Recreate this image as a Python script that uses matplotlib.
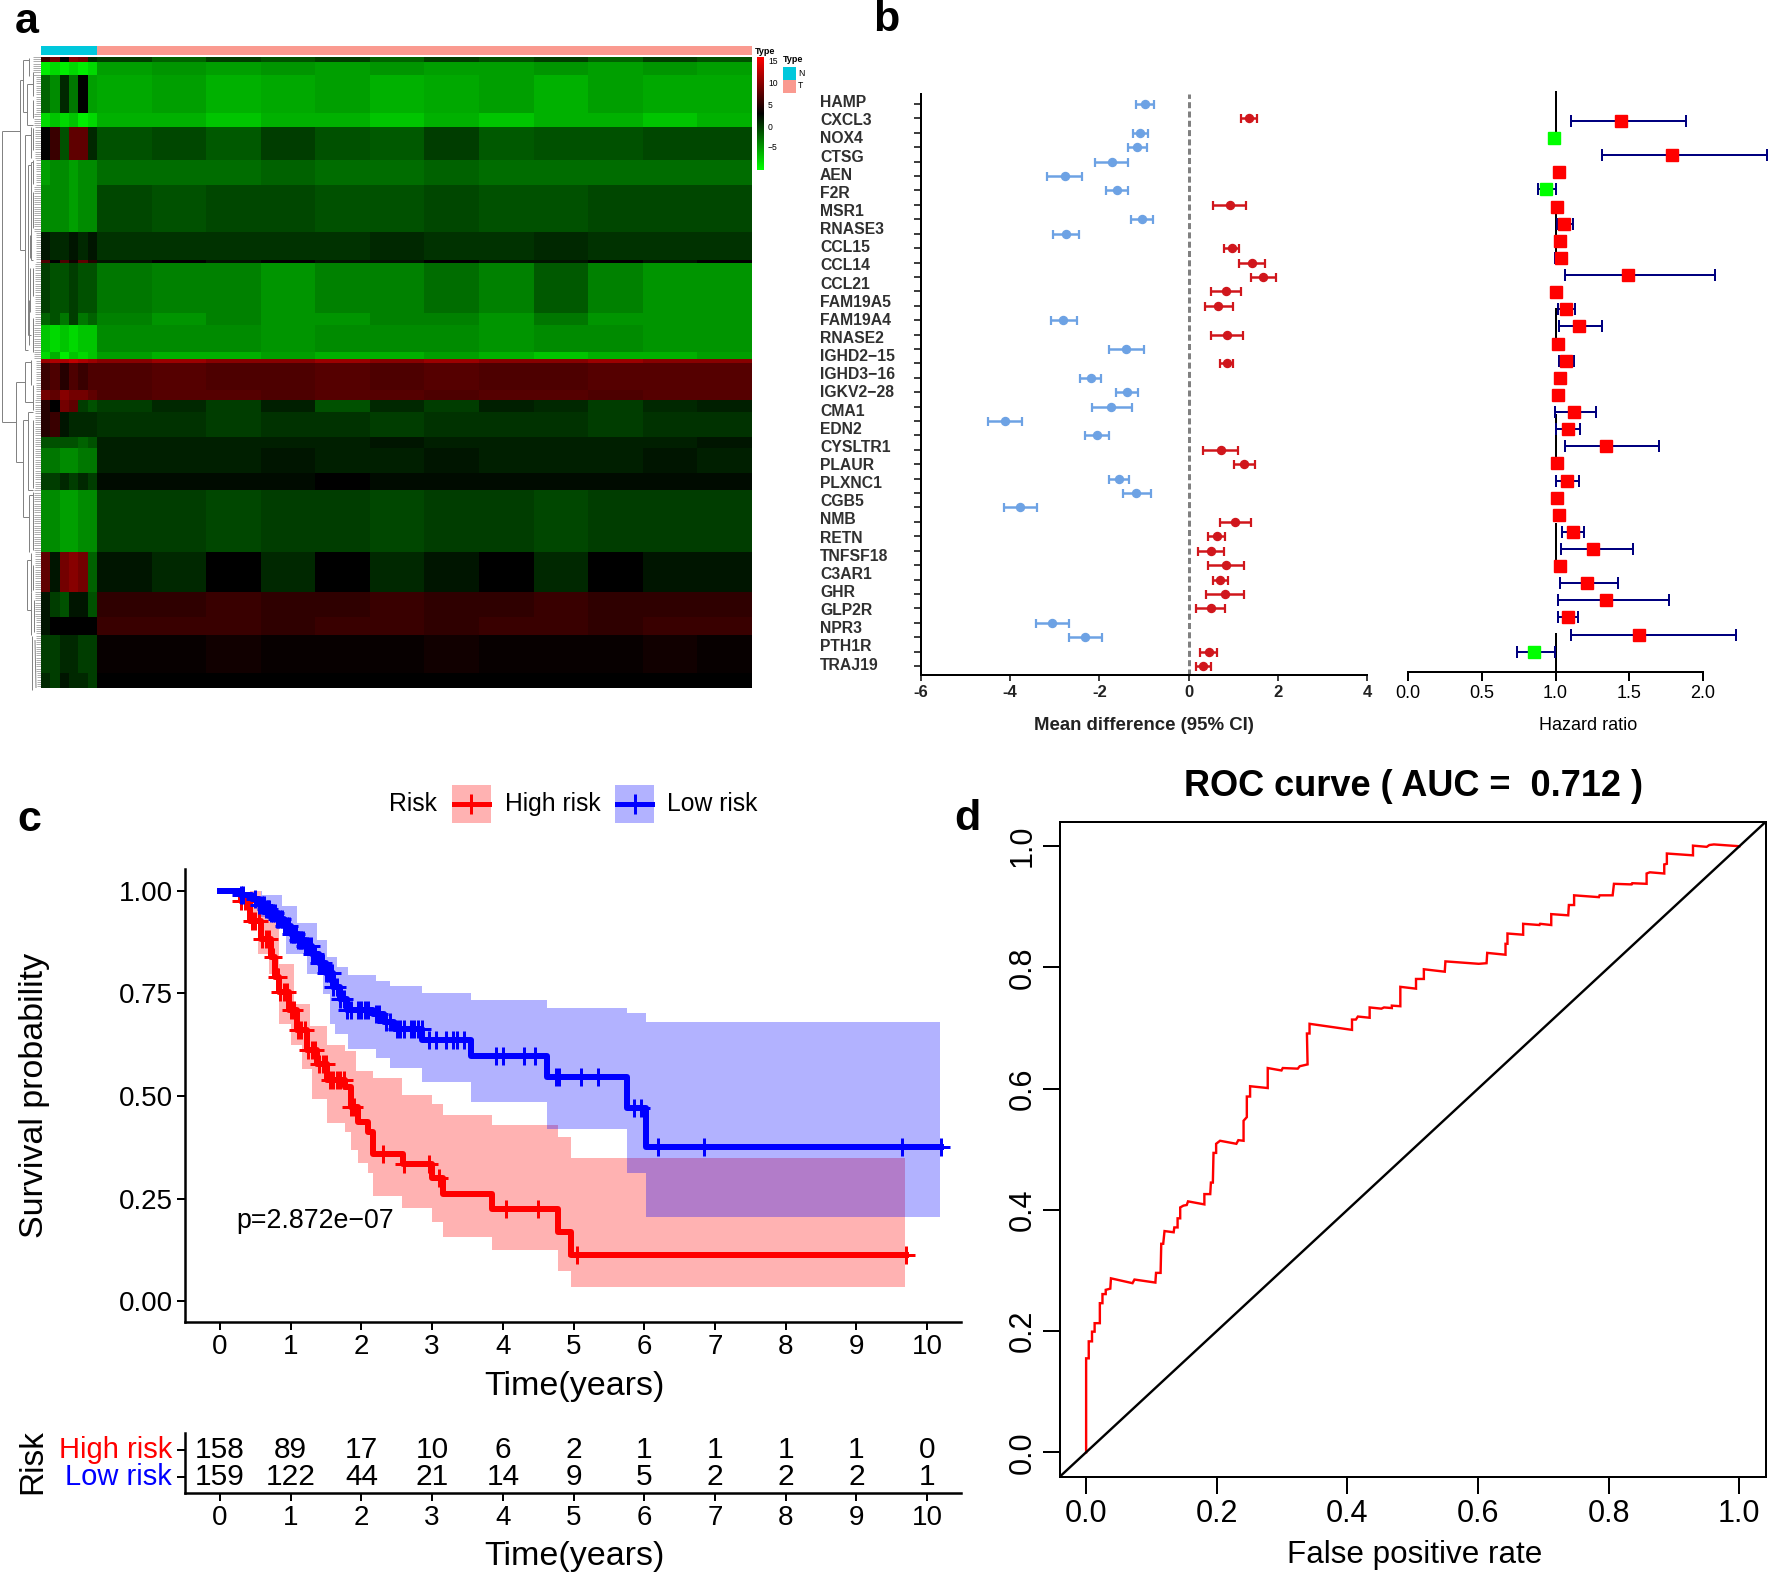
import numpy as np
import matplotlib
matplotlib.use("Agg")
import matplotlib.pyplot as plt
from matplotlib.colors import LinearSegmentedColormap
from matplotlib.patches import Rectangle

plt.rcParams['font.family'] = ['Liberation Sans', 'DejaVu Sans']

W, H = 1770, 1575

# --- panel a: heatmap read band by band (height of band, then N and T columns)
heat_heights = [5, 13, 38, 14, 33, 25, 47, 28, 3, 50, 12, 27, 7, 4, 27, 10, 12, 25, 11, 25, 17, 62, 40, 25, 18, 38, 15]
heat_n = [
    [6, 9, 3, 10, 9, 1], [-9, -8, -9, -8, -9, -8], [-2, -4, 1, -3, 3, -5], [-8, -7, -8, -7, -9, -8],
    [3, 6, -1, 8, 8, 1], [-5, -4, -4, -5, -4, -4], [-4, -4, -4, -5, -4, -4], [2, 1, 1, 2, 1, 2],
    [7, 3, 7, 4, 8, 5], [0, -1, -1, 0, -1, -1], [-2, -1, -3, 0, -3, -2], [-7, -8, -7, -8, -7, -7],
    [-8, -6, -9, -7, -8, -7], [11, 12, 12, 13, 12, 11], [6, 7, 5, 7, 6, 7], [9, 8, 10, 9, 9, 8],
    [5, 3, 9, 8, 0, -1], [5, 6, 2, 1, 1, 1], [-1, -1, -1, -1, -2, -1], [-3, -3, -4, -4, -3, -3],
    [0, 0, 1, 0, 1, 0], [-4, -4, -5, -5, -4, -4], [8, 2, 9, 10, 9, -2], [2, 0, -1, 2, 2, -1],
    [2, 3, 3, 3, 3, 3], [0, 0, 1, 1, 0, 0], [1, 0, 2, 1, 1, 0],
]
heat_t = [
    [0, -2, 0, -1, 0, -2, 0, -1, 0, -2, 0, -1], [-5, -4.5, -5, -4.5, -5, -4.5, -5, -5, -4.5, -5, -4.5, -5],
    [-5.5, -5, -6, -5.5, -5, -6, -5.5, -5, -6, -5, -5.5, -5.5], [-6, -6, -7, -6, -6, -7, -6, -7, -6, -6, -7, -6],
    [-1, -0.5, -1.5, 0, -1, -1.5, 0, -1.5, -1, -1, -0.5, -0.5], [-2.5, -2.5, -2.5, -2, -2.5, -2.5, -2, -2.5, -2.5, -2.5, -2.5, -2.5],
    [-0.5, -1, -0.5, -0.5, -1, -1, -0.5, -1, -1, -0.5, -0.5, -0.5], [0.5, 0.5, 0.5, 0.5, 0.5, 1, 0.5, 0.5, 1, 0.5, 0.5, 0.5],
    [2, 3, 2, 3, 2, 2, 3, 2, 2, 3, 2, 3], [-3, -3.5, -3.5, -4.5, -3.5, -3.5, -2.5, -3.5, -1.5, -3.5, -4.5, -4.5],
    [-3.5, -4.5, -3.5, -4.5, -4.5, -3.5, -3.5, -4.5, -3, -4.5, -4.5, -4.5], [-4, -4, -4, -4.5, -4, -4, -4, -4.5, -4, -4, -4.5, -4.5],
    [-5, -6, -6, -5, -6, -6, -5, -6, -7, -6, -6, -5], [10, 11, 10, 10, 11, 10, 11, 10, 10, 11, 10, 10],
    [7, 7.5, 7, 7, 7.5, 7, 7.5, 7, 7, 7.5, 7.5, 7.5], [7, 7.5, 7.5, 7, 7.5, 7.5, 7, 7.5, 7.5, 7, 7.5, 7.5],
    [0, 1, 0, 1.5, -1, 1, 0, 1.5, 1, 0, 1, 1.5], [0.5, 0.5, 0, 0.5, 0.5, 0, 0.5, 0.5, 0.5, 0, 0.5, 0.5],
    [1.5, 1.5, 1.5, 1.5, 1.5, 2, 1.5, 1.5, 1.5, 1.5, 1.5, 2], [1.5, 1.5, 1.5, 2, 1.5, 1.5, 2, 1.5, 1.5, 1.5, 2, 1.5],
    [2.5, 2.5, 2.5, 2.5, 3, 2.5, 2.5, 2.5, 2.5, 2.5, 2.5, 2.5], [0, 0, -0.5, 0, 0, -0.5, 0, 0, -0.5, 0, 0, 0],
    [2, 1, 3, 1, 3, 1, 2, 3, 1, 3, 2, 2], [5.5, 5.5, 6, 5.5, 5.5, 6, 5.5, 5.5, 6, 5.5, 5.5, 5.5],
    [6, 6, 6, 5.5, 6, 6, 5.5, 6, 6, 5.5, 6, 6], [3.5, 3.5, 4, 3.5, 3.5, 3.5, 4, 3.5, 3.5, 3.5, 4, 3.5],
    [3, 3, 3, 3, 3, 3, 3, 3, 3, 3, 3, 3],
]
cbar_ticks = [15, 10, 5, 0, -5]

# tree drawn as it looks, x0 y0 x1 y1
dend_segs = [
    (2, 131, 2, 422), (2, 131, 20, 131), (2, 422, 16, 422),
    (20, 80, 20, 250), (20, 80, 23, 80), (20, 250, 25, 250),
    (23, 60, 23, 112), (23, 60, 29, 60), (23, 112, 27, 112),
    (27, 84, 27, 125), (27, 84, 33, 84), (27, 125, 33, 125),
    (29, 58, 29, 76), (33, 72, 33, 96), (33, 100, 33, 118),
    (25, 135, 25, 350), (25, 135, 31, 135), (25, 350, 28, 350),
    (31, 127, 31, 158), (33, 128, 33, 150), (28, 165, 28, 335),
    (28, 165, 31, 165), (28, 335, 31, 335), (31, 162, 31, 260),
    (31, 162, 33, 162), (31, 260, 33, 260), (33, 160, 33, 184),
    (33, 192, 33, 228), (30, 235, 30, 258), (30, 268, 30, 312),
    (33, 268, 33, 296), (33, 318, 33, 352), (29, 300, 29, 345),
    (16, 382, 16, 462), (16, 382, 25, 382), (16, 462, 23, 462),
    (25, 362, 25, 402), (25, 362, 31, 362), (25, 402, 33, 402),
    (31, 360, 31, 385), (33, 385, 33, 410), (23, 420, 23, 517),
    (23, 420, 28, 420), (23, 517, 29, 517), (28, 412, 28, 490),
    (28, 412, 33, 412), (28, 490, 33, 490), (33, 420, 33, 488),
    (29, 495, 29, 552), (29, 495, 33, 495), (33, 492, 33, 550),
    (27, 560, 27, 610), (27, 560, 31, 560), (27, 610, 31, 610),
    (31, 553, 31, 592), (31, 592, 31, 635), (32, 636, 32, 690),
    (33, 565, 33, 590), (34, 600, 34, 632), (35, 640, 36, 688),
]
leaf_bands = [57, 75, 113, 127, 160, 185, 232, 263, 325, 359, 400, 437, 490, 552, 617, 673]
leaf_x = [33, 36, 34, 35, 36, 34, 36, 35, 34, 36, 35, 35, 34, 35, 36, 37]

# --- panel b: left forest, 40 rows
md_mean = [-0.98, 1.35, -1.09, -1.15, -1.71, -2.78, -1.60, 0.93, -1.04, -2.76, 0.97, 1.42, 1.67, 0.83, 0.67, -2.81, 0.87, -1.40, 0.86, -2.19,
           -1.39, -1.73, -4.11, -2.06, 0.72, 1.24, -1.57, -1.17, -3.77, 1.05, 0.63, 0.51, 0.84, 0.71, 0.81, 0.50, -3.06, -2.32, 0.45, 0.33]
md_lo = [-1.18, 1.17, -1.25, -1.35, -2.10, -3.18, -1.86, 0.55, -1.29, -3.05, 0.79, 1.14, 1.39, 0.51, 0.37, -3.09, 0.51, -1.79, 0.71, -2.43,
         -1.63, -2.17, -4.49, -2.32, 0.33, 1.02, -1.79, -1.48, -4.14, 0.71, 0.43, 0.21, 0.44, 0.54, 0.39, 0.16, -3.43, -2.68, 0.26, 0.17]
md_hi = [-0.77, 1.53, -0.92, -0.93, -1.35, -2.39, -1.35, 1.29, -0.79, -2.46, 1.13, 1.72, 1.96, 1.17, 0.99, -2.51, 1.23, -1.00, 0.99, -1.96,
         -1.14, -1.28, -3.74, -1.78, 1.11, 1.48, -1.33, -0.85, -3.39, 1.39, 0.82, 0.79, 1.25, 0.89, 1.25, 0.82, -2.69, -1.95, 0.64, 0.51]
genes = ['HAMP', 'CXCL3', 'NOX4', 'CTSG', 'AEN', 'F2R', 'MSR1', 'RNASE3', 'CCL15', 'CCL14', 'CCL21', 'FAM19A5', 'FAM19A4',
         'RNASE2', 'IGHD2\u221215', 'IGHD3\u221216', 'IGKV2\u221228', 'CMA1', 'EDN2', 'CYSLTR1', 'PLAUR', 'PLXNC1', 'CGB5', 'NMB',
         'RETN', 'TNFSF18', 'C3AR1', 'GHR', 'GLP2R', 'NPR3', 'PTH1R', 'TRAJ19']

# --- panel b: hazard ratios, 32 rows
hr_mean = [1.445, 0.99, 1.794, 1.024, 0.938, 1.012, 1.055, 1.033, 1.037, 1.49, 1.00, 1.071, 1.157, 1.019, 1.071, 1.033,
           1.017, 1.128, 1.085, 1.343, 1.012, 1.078, 1.008, 1.026, 1.117, 1.257, 1.031, 1.212, 1.343, 1.083, 1.57, 0.856]
hr_lo = [1.108, 0.967, 1.318, 0.997, 0.881, 0.985, 1.01, 0.997, 0.999, 1.065, 0.98, 1.017, 1.021, 0.997, 1.024, 1.003,
         0.994, 0.999, 1.006, 1.062, 0.99, 1.003, 0.985, 0.999, 1.042, 1.035, 1.003, 1.031, 1.019, 1.019, 1.108, 0.736]
hr_hi = [1.884, 1.012, 2.435, 1.05, 1.001, 1.04, 1.117, 1.071, 1.078, 2.084, 1.02, 1.133, 1.314, 1.042, 1.126, 1.062,
         1.04, 1.275, 1.169, 1.701, 1.035, 1.16, 1.03, 1.053, 1.196, 1.524, 1.058, 1.425, 1.771, 1.153, 2.229, 0.997]
ref_runs = [(-1.78, 1.35), (4.66, 8.0), (10.9, 12.8), (17.1, 20.0), (23.5, 25.8), (29.9, 32.2)]

# --- panel c: survival
low_t = [0, 0.3, 0.45, 0.55, 0.65, 0.72, 0.8, 0.9, 1.0, 1.1, 1.2, 1.3, 1.4, 1.5, 1.6, 1.7, 1.8, 2.17, 2.32, 2.46, 2.86, 3.55, 4.62, 5.75, 6.02, 10.2]
low_s = [1, 0.99, 0.98, 0.965, 0.955, 0.945, 0.93, 0.915, 0.895, 0.88, 0.865, 0.845, 0.825, 0.80, 0.765, 0.735, 0.71, 0.70, 0.68, 0.664, 0.636, 0.597, 0.547, 0.47, 0.375, 0.375]
low_up_t = [0.3, 0.6, 0.87, 1.09, 1.37, 1.52, 1.66, 1.81, 2.2, 2.41, 2.86, 3.55, 4.62, 5.75, 6.02, 10.19]
low_up_s = [1.0, 0.99, 0.963, 0.92, 0.88, 0.838, 0.814, 0.794, 0.781, 0.767, 0.75, 0.734, 0.715, 0.702, 0.68, 0.68]
low_dn_t = [0.3, 0.58, 0.94, 1.23, 1.45, 1.56, 1.63, 1.81, 2.2, 2.41, 2.86, 3.55, 4.62, 5.75, 6.02, 10.19]
low_dn_s = [1.0, 0.935, 0.846, 0.797, 0.749, 0.676, 0.652, 0.615, 0.593, 0.569, 0.534, 0.486, 0.419, 0.313, 0.206, 0.206]
low_cens = [0.3, 0.33, 0.5, 0.55, 0.6, 0.62, 0.65, 0.68, 0.7, 0.72, 0.75, 0.78, 0.8, 0.82, 0.85, 0.88, 0.9, 0.92, 0.95, 0.98, 1.0, 1.03, 1.05,
            1.08, 1.1, 1.13, 1.15, 1.18, 1.2, 1.23, 1.25, 1.28, 1.3, 1.33, 1.35, 1.4, 1.43, 1.45, 1.5, 1.53, 1.55, 1.58, 1.6, 1.65, 1.7, 1.75,
            1.8, 1.85, 1.95, 2.0, 2.05, 2.1, 2.2, 2.25, 2.35, 2.4, 2.5, 2.55, 2.6, 2.7, 2.75, 2.8, 2.85, 2.95, 3.05, 3.2, 3.3, 3.35, 3.45,
            3.9, 4.0, 4.3, 4.45, 4.75, 4.8, 5.1, 5.35, 5.85, 5.95, 6.2, 6.85, 9.65, 10.2]

high_t = [0.25, 0.29, 0.43, 0.58, 0.72, 0.78, 0.83, 0.98, 1.09, 1.23, 1.37, 1.52, 1.77, 1.85, 1.95, 2.1, 2.17, 2.59, 3.0, 3.16, 3.85, 4.78, 4.96, 9.7]
high_s = [1, 0.975, 0.927, 0.883, 0.838, 0.79, 0.753, 0.709, 0.66, 0.611, 0.579, 0.538, 0.522, 0.474, 0.437, 0.413, 0.36, 0.334, 0.30, 0.262, 0.224, 0.168, 0.112, 0.112]
high_up_t = [0.25, 0.58, 0.83, 1.05, 1.27, 1.52, 1.77, 1.92, 2.17, 2.58, 3.0, 3.16, 3.85, 4.78, 4.96, 9.69]
high_up_s = [1.0, 0.943, 0.822, 0.725, 0.67, 0.624, 0.61, 0.561, 0.543, 0.502, 0.48, 0.455, 0.429, 0.40, 0.35, 0.35]
high_dn_t = [0.25, 0.43, 0.54, 0.69, 0.83, 1.01, 1.16, 1.3, 1.52, 1.77, 1.85, 1.95, 2.1, 2.17, 2.58, 3.0, 3.16, 3.85, 4.78, 4.96, 9.69]
high_dn_s = [1.0, 0.919, 0.846, 0.797, 0.676, 0.624, 0.567, 0.492, 0.435, 0.413, 0.368, 0.338, 0.312, 0.257, 0.228, 0.194, 0.158, 0.126, 0.074, 0.036, 0.036]
high_cens = [0.3, 0.35, 0.45, 0.5, 0.55, 0.6, 0.65, 0.7, 0.75, 0.8, 0.82, 0.85, 0.9, 0.95, 1.0, 1.05, 1.1, 1.15, 1.2, 1.25, 1.3, 1.35, 1.4, 1.45,
             1.5, 1.55, 1.6, 1.65, 1.7, 1.75, 1.85, 1.9, 2.3, 2.6, 2.95, 3.1, 4.05, 4.5, 5.05, 9.7]

years = list(range(11))
high_n = [158, 89, 17, 10, 6, 2, 1, 1, 1, 1, 0]
low_n = [159, 122, 44, 21, 14, 9, 5, 2, 2, 2, 1]

# --- panel d: ROC
roc_fpr = [0, 0, 0.004, 0.004, 0.009, 0.009, 0.013, 0.013, 0.021, 0.021, 0.025, 0.025, 0.030, 0.030, 0.037, 0.038, 0.071, 0.074, 0.106, 0.107,
           0.114, 0.115, 0.118, 0.120, 0.134, 0.135, 0.140, 0.140, 0.144, 0.144, 0.149, 0.154, 0.156, 0.181, 0.181, 0.190, 0.191, 0.194, 0.195,
           0.199, 0.199, 0.205, 0.230, 0.233, 0.241, 0.241, 0.246, 0.246, 0.251, 0.251, 0.278, 0.278, 0.299, 0.301, 0.324, 0.327, 0.339, 0.338,
           0.342, 0.342, 0.407, 0.407, 0.413, 0.416, 0.434, 0.434, 0.452, 0.456, 0.468, 0.468, 0.481, 0.481, 0.505, 0.505, 0.517, 0.517, 0.549,
           0.550, 0.601, 0.613, 0.614, 0.642, 0.642, 0.645, 0.645, 0.669, 0.669, 0.694, 0.695, 0.712, 0.712, 0.738, 0.739, 0.747, 0.747, 0.785,
           0.786, 0.806, 0.808, 0.835, 0.836, 0.858, 0.858, 0.863, 0.885, 0.885, 0.889, 0.889, 0.929, 0.929, 0.950, 0.954, 0.961, 1.0]
roc_tpr = [0, 0.155, 0.155, 0.183, 0.183, 0.199, 0.199, 0.213, 0.213, 0.246, 0.246, 0.261, 0.261, 0.268, 0.270, 0.287, 0.279, 0.285, 0.280, 0.296,
           0.296, 0.344, 0.344, 0.365, 0.363, 0.371, 0.371, 0.386, 0.386, 0.404, 0.407, 0.408, 0.414, 0.409, 0.426, 0.426, 0.445, 0.445, 0.494,
           0.494, 0.509, 0.514, 0.509, 0.515, 0.514, 0.547, 0.553, 0.587, 0.587, 0.604, 0.601, 0.634, 0.630, 0.634, 0.633, 0.637, 0.640, 0.691,
           0.691, 0.707, 0.697, 0.714, 0.714, 0.719, 0.717, 0.734, 0.732, 0.734, 0.733, 0.737, 0.736, 0.768, 0.765, 0.781, 0.781, 0.797, 0.793,
           0.810, 0.806, 0.807, 0.824, 0.821, 0.839, 0.839, 0.856, 0.854, 0.872, 0.870, 0.872, 0.870, 0.888, 0.886, 0.903, 0.903, 0.919, 0.916,
           0.919, 0.919, 0.938, 0.937, 0.939, 0.938, 0.955, 0.957, 0.955, 0.970, 0.971, 0.988, 0.985, 1.001, 0.999, 1.002, 1.003, 1.0]


def ax_px(fig, left, top, right, bottom):
    return fig.add_axes([left / W, 1 - bottom / H, (right - left) / W, (bottom - top) / H])


def px(n):
    # line widths and lengths in points from pixels
    return n * 72.0 / 100


def band_fill(ax, up_t, up_s, dn_t, dn_s, col):
    t_all = np.array(sorted(set(up_t) | set(dn_t)))
    up = np.array(up_s)[np.searchsorted(up_t, t_all, side='right') - 1]
    dn = np.array(dn_s)[np.searchsorted(dn_t, t_all, side='right') - 1]
    ax.fill_between(t_all, dn, up, step='post', color=col, alpha=0.3, lw=0)


fig = plt.figure(figsize=(W / 100, H / 100), dpi=100)

# page layer for text and anything positioned by eye
page = ax_px(fig, 0, 0, W, H)
page.set_xlim(0, W)
page.set_ylim(H, 0)
page.axis('off')

for lab, x, y in [('a', 27, 22), ('b', 886, 20), ('c', 29, 820), ('d', 967, 819)]:
    page.text(x, y, lab, fontsize=31, fontweight='bold', ha='center', va='center')

# ---------- a
ax = ax_px(fig, 41, 57, 752, 688)
ax.axis('off')
gbr = LinearSegmentedColormap.from_list('gbr', ['#00ff00', '#000000', '#ff0000'])
n_grid = np.repeat(np.array(heat_n, dtype=float), heat_heights, axis=0)
t_grid = np.repeat(np.array(heat_t, dtype=float), heat_heights, axis=0)
ax.imshow(n_grid, cmap=gbr, vmin=-10, vmax=16.2, aspect='auto', extent=(41, 97, 688, 57), interpolation='nearest')
ax.imshow(t_grid, cmap=gbr, vmin=-10, vmax=16.2, aspect='auto', extent=(97, 752, 688, 57), interpolation='nearest')
ax.set_xlim(41, 752)
ax.set_ylim(688, 57)

page.add_patch(Rectangle((41, 46), 56, 9, color='#00c8dc', lw=0))
page.add_patch(Rectangle((97, 46), 655, 9, color='#fa9a90', lw=0))
page.text(755, 51, 'Type', fontsize=6.5, fontweight='bold', ha='left', va='center')

cax = ax_px(fig, 757, 57, 764, 170)
cax.imshow(np.linspace(16.2, -10, 200).reshape(-1, 1), cmap=gbr, vmin=-10, vmax=16.2, aspect='auto')
cax.axis('off')
for v, y in zip(cbar_ticks, [62, 84, 106, 127, 148]):
    page.text(768, y, str(v).replace('-', '\u2212'), fontsize=6.2, ha='left', va='center')
page.text(783, 60, 'Type', fontsize=6.5, fontweight='bold', ha='left', va='center')
page.add_patch(Rectangle((783, 67), 13, 13, color='#00c8dc', lw=0))
page.add_patch(Rectangle((783, 80), 13, 13, color='#fa9a90', lw=0))
page.text(798, 73, 'N', fontsize=6.2, ha='left', va='center')
page.text(798, 86, 'T', fontsize=6.2, ha='left', va='center')

for x0, y0, x1, y1 in dend_segs:
    page.plot([x0, x1], [y0, y1], color='#808080', lw=0.7, solid_capstyle='butt')
for y in np.arange(57, 688, 2.2):
    i = np.searchsorted(leaf_bands, y, side='right') - 1
    page.plot([leaf_x[i], 41], [y, y], color='#a0a0a0', lw=0.6, solid_capstyle='butt')

# ---------- b left
row_h = 14.41
ax = ax_px(fig, 921, 94, 1367, 675)
ax.set_xlim(-6, 4)
ax.set_ylim((675 - 104) / row_h, (94 - 104) / row_h)
ax.axvline(0, color='#808080', lw=px(3), ls=(0, (2.0, 1.1)), zorder=0)
for i, (m, lo, hi) in enumerate(zip(md_mean, md_lo, md_hi)):
    col = '#d0161c' if m > 0 else '#6da2e4'
    ax.errorbar(m, i, xerr=[[m - lo], [hi - m]], fmt='o', ms=px(8), color=col, elinewidth=px(2.5), capsize=px(4.5), capthick=px(2.2))
ax.set_yticks(range(len(md_mean)))
ax.set_yticklabels([])
ax.set_xticks([-6, -4, -2, 0, 2, 4])
ax.set_xticklabels(['-6', '-4', '-2', '0', '2', '4'], fontsize=12, fontweight='bold', color='#222222')
ax.tick_params(axis='y', length=px(7), width=px(1.5))
ax.tick_params(axis='x', length=px(6), width=px(1.5), pad=3)
for s in ['top', 'right']:
    ax.spines[s].set_visible(False)
for s in ['left', 'bottom']:
    ax.spines[s].set_linewidth(px(2))

label_y = np.linspace(102.7, 665, len(genes))
for g, y in zip(genes, label_y):
    page.text(820, y, g, fontsize=11.3, fontweight='bold', color='#303030', ha='left', va='center')
page.text(1144, 726, 'Mean difference (95% CI)', fontsize=13.4, fontweight='bold', color='#222222', ha='center', va='center')

# ---------- b right
hr_h = 17.12
ax = ax_px(fig, 1408.3, 88, 1770, 672)
ax.set_xlim(0, (1770 - 1408.3) / 147.2)
ax.set_ylim((672 - 121) / hr_h, (88 - 121) / hr_h)
for y0, y1 in ref_runs:
    ax.plot([1, 1], [y0, y1], color='black', lw=px(2), solid_capstyle='butt', zorder=1)
for i, (m, lo, hi) in enumerate(zip(hr_mean, hr_lo, hr_hi)):
    col = '#ff0000' if m >= 1 else '#00ff00'
    ax.errorbar(m, i, xerr=[[m - lo], [hi - m]], fmt='none', ecolor='#00007f', elinewidth=px(2), capsize=px(6), capthick=px(2), zorder=2)
    ax.plot(m, i, 's', color=col, ms=px(11.5), zorder=3)
ax.set_xticks([0, 0.5, 1, 1.5, 2])
ax.set_xticklabels(['0.0', '0.5', '1.0', '1.5', '2.0'], fontsize=13)
ax.set_yticks([])
ax.tick_params(axis='x', length=px(9), width=px(2), pad=3)
for s in ['top', 'right', 'left']:
    ax.spines[s].set_visible(False)
ax.spines['bottom'].set_linewidth(px(2))
ax.spines['bottom'].set_bounds(0, 2)
ax.patch.set_alpha(0)
page.text(1588, 726, 'Hazard ratio', fontsize=13, ha='center', va='center')

# ---------- c
ax = ax_px(fig, 185, 869, 961, 1322)
ax.set_xlim(-0.495, 10.48)
ax.set_ylim(-0.05, 1.0526)
band_fill(ax, high_up_t, high_up_s, high_dn_t, high_dn_s, '#ff0000')
band_fill(ax, low_up_t, low_up_s, low_dn_t, low_dn_s, '#0000ff')

ax.step(high_t, high_s, where='post', color='#ff0000', lw=px(6))
ax.plot(high_cens, np.array(high_s)[np.searchsorted(high_t, high_cens, side='right') - 1], '+', color='#ff0000', ms=px(18), mew=px(3))
ax.step(low_t, low_s, where='post', color='#0000ff', lw=px(6))
ax.plot(low_cens, np.array(low_s)[np.searchsorted(low_t, low_cens, side='right') - 1], '+', color='#0000ff', ms=px(18), mew=px(3))

ax.set_xticks(years)
ax.set_yticks([0, 0.25, 0.5, 0.75, 1])
ax.set_yticklabels(['0.00', '0.25', '0.50', '0.75', '1.00'])
ax.tick_params(labelsize=20, length=px(8), width=px(2), pad=3)
for s in ['top', 'right']:
    ax.spines[s].set_visible(False)
for s in ['left', 'bottom']:
    ax.spines[s].set_linewidth(px(2.5))
ax.patch.set_alpha(0)
ax.text(1.34, 0.197, 'p=2.872e\u221207', fontsize=19.3, ha='center', va='center')

page.text(35, 1095, 'Survival probability', fontsize=24.5, rotation=90, ha='center', va='center')
page.text(574, 1386, 'Time(years)', fontsize=24.5, ha='center', va='center')

# legend on top of c
page.text(413, 804, 'Risk', fontsize=17.8, ha='center', va='center')
for x0, col, txt, tx in [(451.5, '#ff0000', 'High risk', 505), (615, '#0000ff', 'Low risk', 667)]:
    page.add_patch(Rectangle((x0, 785), 39, 38, color=col, alpha=0.3, lw=0))
    page.plot([x0 + 2, x0 + 37], [804, 804], color=col, lw=px(5))
    page.plot([x0 + 19.5], [804], '+', color=col, ms=px(20), mew=px(3))
    page.text(tx, 804, txt, fontsize=17.8, ha='left', va='center')

# risk table
ax = ax_px(fig, 185, 1433, 961, 1493)
ax.set_xlim(-0.495, 10.48)
ax.set_ylim(0, 60)
for x, a, b in zip(years, high_n, low_n):
    ax.text(x, 43, str(a), fontsize=21.5, ha='center', va='center')
    ax.text(x, 16, str(b), fontsize=21.5, ha='center', va='center')
ax.set_xticks(years)
ax.set_yticks([43, 16])
ax.set_yticklabels([])
ax.tick_params(labelsize=20, length=px(8), width=px(2), pad=3)
for s in ['top', 'right']:
    ax.spines[s].set_visible(False)
for s in ['left', 'bottom']:
    ax.spines[s].set_linewidth(px(2.5))
page.text(172, 1450, 'High risk', color='#ff0000', fontsize=21, ha='right', va='center')
page.text(172, 1477, 'Low risk', color='#0000ff', fontsize=21, ha='right', va='center')
page.text(33, 1462, 'Risk', fontsize=24, rotation=90, ha='center', va='center')
page.text(574, 1556, 'Time(years)', fontsize=24.5, ha='center', va='center')

# ---------- d
ax = ax_px(fig, 1060, 822, 1765.5, 1476.5)
ax.set_xlim(-0.04, 1.04)
ax.set_ylim(-0.04, 1.04)
ax.plot(roc_fpr, roc_tpr, color='#ff0000', lw=px(2.4), solid_joinstyle='miter')
ax.plot([-0.04, 1.04], [-0.04, 1.04], color='black', lw=px(2.4))
ax.set_xticks([0, 0.2, 0.4, 0.6, 0.8, 1.0])
ax.set_yticks([0, 0.2, 0.4, 0.6, 0.8, 1.0])
ax.set_xticklabels(['0.0', '0.2', '0.4', '0.6', '0.8', '1.0'])
ax.set_yticklabels(['0.0', '0.2', '0.4', '0.6', '0.8', '1.0'], rotation=90, va='center')
ax.tick_params(labelsize=22, length=px(17), width=px(2), pad=4)
for s in ax.spines.values():
    s.set_linewidth(px(2))
page.text(1414, 786, 'ROC curve ( AUC =  0.712 )', fontsize=26, fontweight='bold', ha='center', va='center')
page.text(1415, 1555, 'False positive rate', fontsize=22.6, ha='center', va='center')

fig.savefig('out.png', dpi=100)
